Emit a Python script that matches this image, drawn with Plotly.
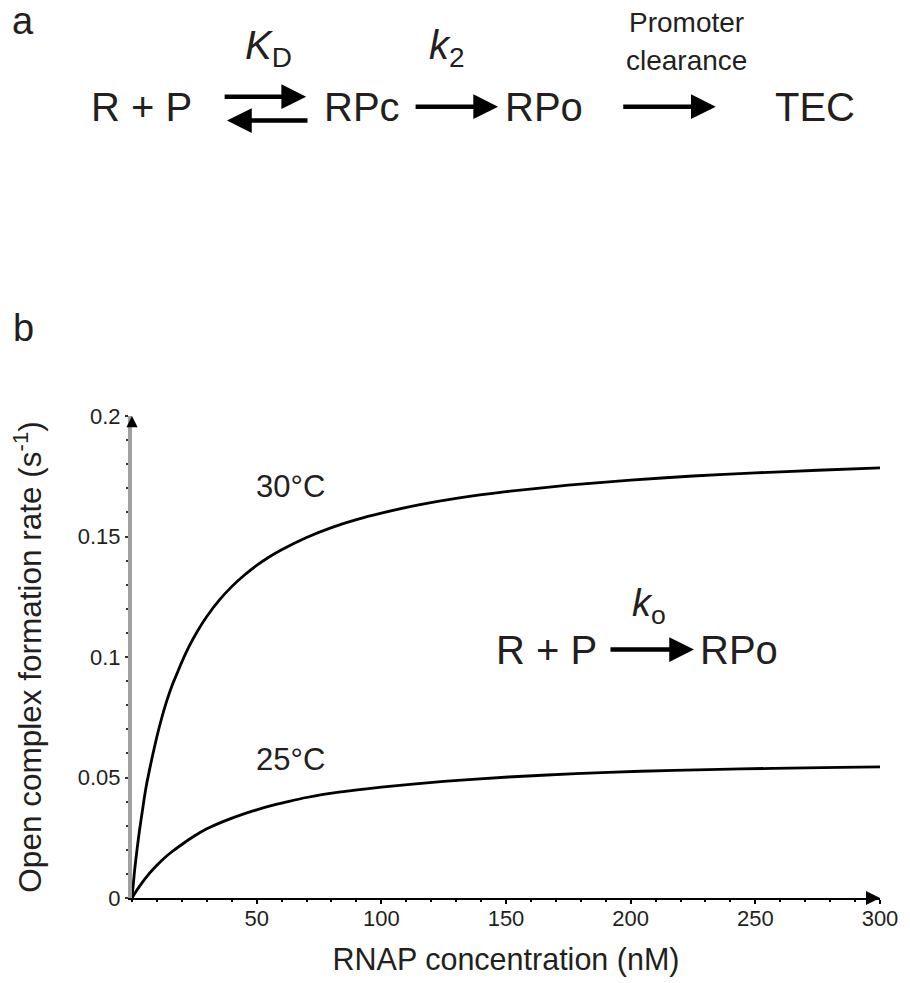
import plotly.graph_objects as go

# ---- data ----
conc_30 = [0, 1, 2, 3, 4, 5, 6, 8, 10, 12, 14, 16, 18, 20, 23, 26, 30, 35, 40, 45, 50, 55, 60,
           70, 80, 90, 100, 115, 130, 150, 175, 200, 225, 250, 275, 300]
rate_30 = [0, 0.011, 0.020, 0.028, 0.035, 0.042, 0.048, 0.058, 0.067, 0.075, 0.082, 0.088, 0.093,
           0.098, 0.1046, 0.1103, 0.1168, 0.1236, 0.1292, 0.1339, 0.1380, 0.1415, 0.1445,
           0.1496, 0.1537, 0.1570, 0.1597, 0.1631, 0.1658, 0.1686, 0.1713, 0.1734, 0.1751,
           0.1764, 0.1775, 0.1785]
conc_25 = [0, 2, 4, 6, 8, 10, 13, 16, 20, 25, 30, 37, 44, 50, 57, 63, 70, 83, 100, 125, 151, 178,
           204, 231, 257, 284, 300]
rate_25 = [0, 0.0033, 0.0063, 0.0090, 0.0114, 0.0136, 0.0166, 0.0192, 0.0222, 0.0257, 0.0287,
           0.0319, 0.0346, 0.0366, 0.0386, 0.0401, 0.0417, 0.0439, 0.046, 0.0484, 0.0502, 0.0516,
           0.0526, 0.0533, 0.0538, 0.0542, 0.0544]
series_labels = ["30°C", "25°C"]
x_tick_vals = [50, 100, 150, 200, 250, 300]
y_tick_vals = [0, 0.05, 0.1, 0.15, 0.2]
y_tick_text = ["0", "0.05", "0.1", "0.15", "0.2"]
x_range = [0, 300]
y_range = [0, 0.2]

W, H = 910, 983
L, R, T, B = 132, 22, 416, 84
TXT = "#231f20"
FONT = "Liberation Sans, Arial, sans-serif"


def px(x):
    return (x - L) / (W - L - R)


def py(y):
    return (H - B - y) / (H - T - B)


fig = go.Figure()
fig.add_trace(go.Scatter(x=conc_30, y=rate_30, mode="lines", name=series_labels[0],
                         line=dict(color="black", width=2.8, shape="spline", smoothing=0.6)))
fig.add_trace(go.Scatter(x=conc_25, y=rate_25, mode="lines", name=series_labels[1],
                         line=dict(color="black", width=2.8, shape="spline", smoothing=0.6)))

ann = []


def text(x, y, s, size, **kw):
    ann.append(dict(x=px(x), y=py(y), xref="paper", yref="paper", text=s, showarrow=False,
                    font=dict(size=size, color=TXT, family=FONT), xanchor="center",
                    yanchor="middle", **kw))


def arrow(x0, x1, y, width=4.5, size=1.1):
    ann.append(dict(x=px(x1), y=py(y), xref="paper", yref="paper", ax=x0 - x1, ay=0,
                    text="", showarrow=True, arrowhead=2, arrowsize=size,
                    arrowwidth=width, arrowcolor="black"))


# panel labels
text(22, 20, "a", 38)
text(22, 328, "b", 38)

# scheme a
text(142, 106, "R + P", 40)
text(270, 47, "<i>K</i><sub>D</sub>", 40)
arrow(225, 308, 96)
arrow(310, 228, 120)
text(364, 106, "RPc", 40)
text(450, 47, "<i>k</i><sub>2</sub>", 40)
arrow(418, 502, 106)
text(548, 106, "RPo", 40)
text(692, 22, "Promoter", 28)
text(692, 60, "clearance", 28)
arrow(628, 722, 106)
text(822, 106, "TEC", 40)

# inset scheme in panel b
text(551, 650, "R + P", 40)
text(655, 606, "<i>k</i><sub>o</sub>", 38)
arrow(615, 700, 650)
text(745, 650, "RPo", 40)

# curve labels
text(292, 487, series_labels[0], 31)
text(292, 760, series_labels[1], 31)

# axis arrows
ann.append(dict(x=300, y=0, xref="x", yref="y", ax=-12, ay=0, text="", showarrow=True,
                arrowhead=2, arrowsize=1.4, arrowwidth=2, arrowcolor="black"))
ann.append(dict(x=0, y=0.2, xref="x", yref="y", ax=0, ay=12, text="", showarrow=True,
                arrowhead=2, arrowsize=1.4, arrowwidth=1.6, arrowcolor="black"))

tick_font = dict(size=22, color=TXT, family=FONT)

fig.update_layout(
    width=W, height=H,
    margin=dict(l=L, r=R, t=T, b=B),
    paper_bgcolor="white", plot_bgcolor="white",
    showlegend=False,
    font=dict(family=FONT, color=TXT),
    annotations=ann,
    xaxis=dict(range=x_range, tickvals=x_tick_vals, ticks="outside", ticklen=4, tickwidth=2,
               tickcolor="black", showline=True, linecolor="black", linewidth=2,
               showgrid=False, zeroline=False, tickfont=tick_font, ticklabelstandoff=-4,
               minor=dict(dtick=10, ticks="outside", ticklen=2, tickwidth=1.5, tickcolor="black"),
               title=dict(text="RNAP concentration (nM)", font=dict(size=30.5, color=TXT, family=FONT),
                          standoff=18)),
    yaxis=dict(range=y_range, tickvals=y_tick_vals, ticktext=y_tick_text, ticks="outside",
               ticklen=3, tickwidth=2, tickcolor="#333333", showline=True, linecolor="#a0a0a0",
               linewidth=4, showgrid=False, zeroline=False, tickfont=tick_font,
               minor=dict(dtick=0.01, ticks="outside", ticklen=2, tickwidth=1.5, tickcolor="#333333"),
               title=dict(text="Open complex formation rate (s<sup>-1</sup>)",
                          font=dict(size=31.5, color=TXT, family=FONT), standoff=28)),
    # overlay axes giving the inner half of the crossing tick marks
    xaxis2=dict(overlaying="x", anchor="y", side="bottom", range=x_range, tickvals=x_tick_vals,
                ticks="inside", ticklen=4, tickwidth=2, tickcolor="black", showticklabels=False,
                showline=False, showgrid=False, zeroline=False,
                minor=dict(dtick=10, ticks="inside", ticklen=2, tickwidth=1.5, tickcolor="black")),
    yaxis2=dict(overlaying="y", anchor="x", side="left", range=y_range, tickvals=y_tick_vals,
                ticks="inside", ticklen=3, tickwidth=2, tickcolor="#333333", showticklabels=False,
                showline=False, showgrid=False, zeroline=False,
                minor=dict(dtick=0.01, ticks="inside", ticklen=2, tickwidth=1.5, tickcolor="#333333")),
)

fig.write_html("out.html")
